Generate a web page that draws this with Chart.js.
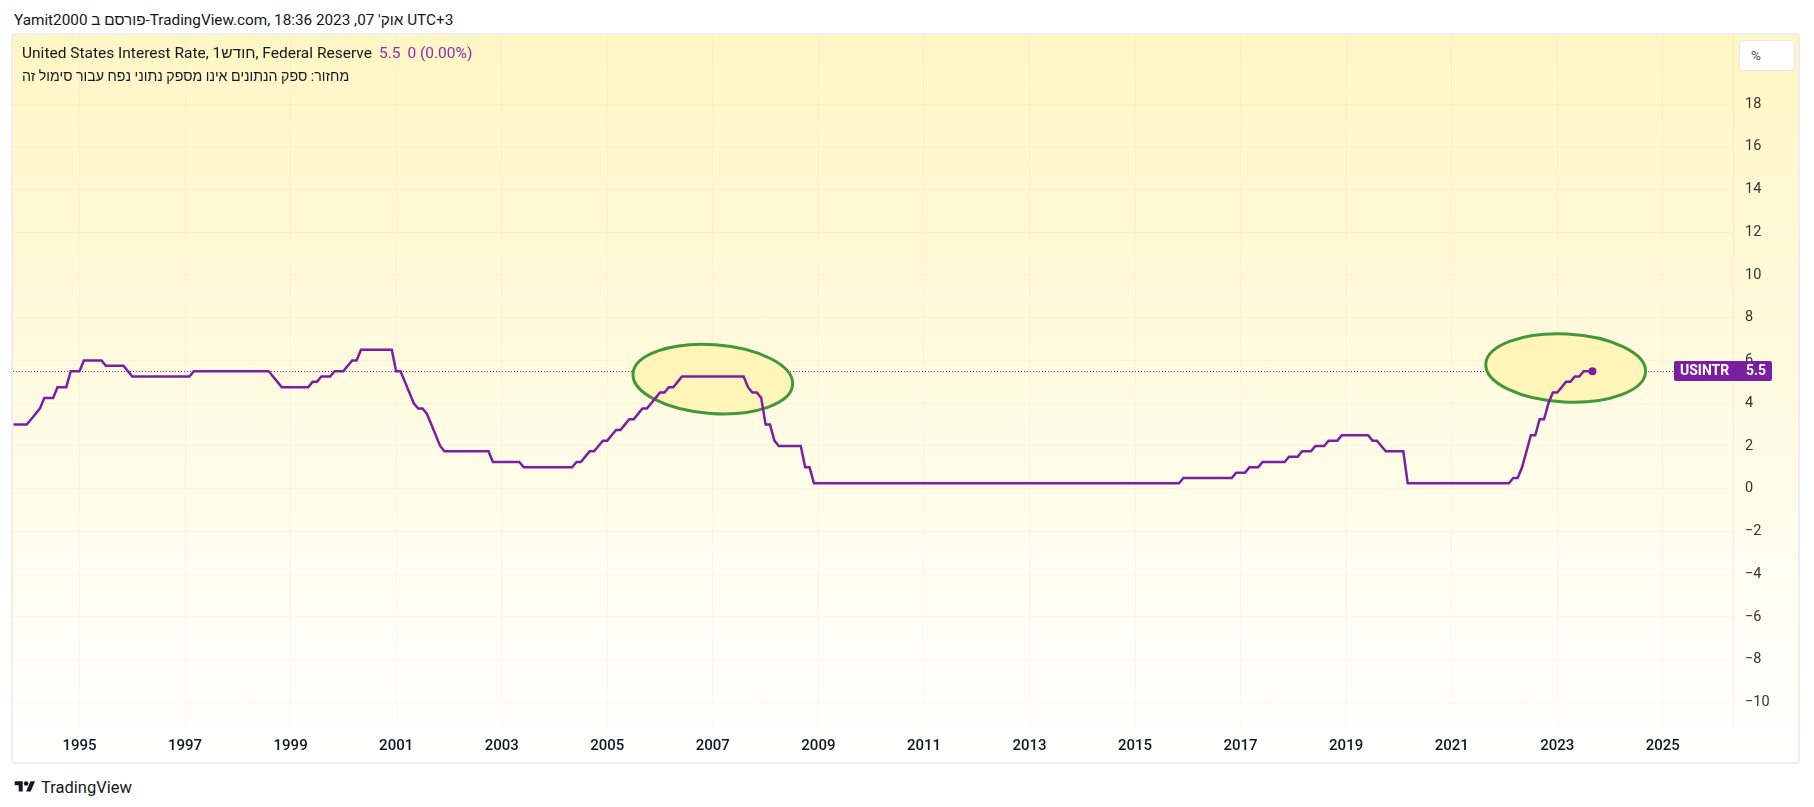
<!DOCTYPE html>
<html>
<head>
<meta charset="utf-8">
<title>USINTR</title>
<script src="https://cdn.jsdelivr.net/npm/chart.js@4.4.0/dist/chart.umd.min.js"></script>
<style>
  html, body { margin: 0; padding: 0; background: #ffffff; width: 1814px; height: 807px; overflow: hidden; }
  body { font-family: Roboto, "Liberation Sans", "DejaVu Sans", sans-serif; color: #131722; }
  #header { position: absolute; left: 14px; top: 10px; font-size: 15.3px; line-height: 20px; white-space: nowrap; }
  #panel {
    position: absolute; left: 11px; top: 33px; width: 1785px; height: 727px;
    border: 2px solid #eceef2; border-radius: 4px; overflow: hidden;
    background: linear-gradient(to bottom, #fff6c4 0%, #ffffff 100%);
  }
  #chart { position: absolute; left: 0; top: 0; }
  .legend { position: absolute; left: 9px; font-size: 15.5px; line-height: 20px; white-space: nowrap; }
  #legend1 { top: 8px; }
  #legend2 { top: 31px; font-size: 14.2px; }
  .val { color: #8e2bb0; margin-left: 7px; }
  #unit {
    position: absolute; left: 1726px; top: 5px; width: 56px; height: 31px;
    background: #ffffff; border: 1px solid #e6e8ee; border-radius: 5px; box-sizing: border-box;
    font-size: 13.5px; line-height: 29px; padding-left: 11px; color: #555;
  }
  #footer { position: absolute; left: 13px; top: 778px; height: 18px; display: flex; align-items: center; font-size: 16.5px; }
  #footer svg { margin-right: 4px; }
</style>
</head>
<body>
<div id="header" dir="ltr">Yamit2000 פורסם ב-TradingView.com, אוק' 07, 2023 18:36 UTC+3</div>

<div id="panel">
  <canvas id="chart" width="1785" height="727"></canvas>
  <div id="legend1" class="legend" dir="ltr">United States Interest Rate, 1חודש, Federal Reserve<span class="val">5.5</span><span class="val">0 (0.00%)</span></div>
  <div id="legend2" class="legend" dir="ltr">מחזור: ספק הנתונים אינו מספק נתוני נפח עבור סימול זה</div>
  <div id="unit">%</div>
</div>

<div id="footer">
  <svg width="24" height="16" viewBox="0 0 36 28"><path d="M14 22H7V11H0V4h14v18zM28 22h-8l7.5-18h8L28 22z" fill="#131722"/><circle cx="20" cy="8" r="4" fill="#131722"/></svg>
  <span>TradingView</span>
</div>

<script>
// ------------------------------------------------------------
// USINTR - United States Interest Rate, monthly closes
// ------------------------------------------------------------
Chart.defaults.font.family = "Roboto, 'Liberation Sans', 'DejaVu Sans', sans-serif";

const symbol = 'USINTR';
const firstYear = 1993;
const firstMonth = 9; // October (0-based)

// monthly close values, one row per year
const monthlyRates = [
  3, 3, 3,                                                   // 1993 Oct-Dec
  3, 3.25, 3.5, 3.75, 4.25, 4.25, 4.25, 4.75, 4.75, 4.75, 5.5, 5.5, // 1994
  5.5, 6, 6, 6, 6, 6, 5.75, 5.75, 5.75, 5.75, 5.75, 5.5,      // 1995
  5.25, 5.25, 5.25, 5.25, 5.25, 5.25, 5.25, 5.25, 5.25, 5.25, 5.25, 5.25, // 1996
  5.25, 5.25, 5.5, 5.5, 5.5, 5.5, 5.5, 5.5, 5.5, 5.5, 5.5, 5.5, // 1997
  5.5, 5.5, 5.5, 5.5, 5.5, 5.5, 5.5, 5.5, 5.25, 5, 4.75, 4.75, // 1998
  4.75, 4.75, 4.75, 4.75, 4.75, 5, 5, 5.25, 5.25, 5.25, 5.5, 5.5, // 1999
  5.5, 5.75, 6, 6, 6.5, 6.5, 6.5, 6.5, 6.5, 6.5, 6.5, 6.5,      // 2000
  5.5, 5.5, 5, 4.5, 4, 3.75, 3.75, 3.5, 3, 2.5, 2, 1.75,        // 2001
  1.75, 1.75, 1.75, 1.75, 1.75, 1.75, 1.75, 1.75, 1.75, 1.75, 1.25, 1.25, // 2002
  1.25, 1.25, 1.25, 1.25, 1.25, 1, 1, 1, 1, 1, 1, 1,           // 2003
  1, 1, 1, 1, 1, 1.25, 1.25, 1.5, 1.75, 1.75, 2, 2.25,         // 2004
  2.25, 2.5, 2.75, 2.75, 3, 3.25, 3.25, 3.5, 3.75, 3.75, 4, 4.25, // 2005
  4.5, 4.5, 4.75, 4.75, 5, 5.25, 5.25, 5.25, 5.25, 5.25, 5.25, 5.25, // 2006
  5.25, 5.25, 5.25, 5.25, 5.25, 5.25, 5.25, 5.25, 4.75, 4.5, 4.5, 4.25, // 2007
  3, 3, 2.25, 2, 2, 2, 2, 2, 2, 1, 1, 0.25,                    // 2008
  0.25, 0.25, 0.25, 0.25, 0.25, 0.25, 0.25, 0.25, 0.25, 0.25, 0.25, 0.25, // 2009
  0.25, 0.25, 0.25, 0.25, 0.25, 0.25, 0.25, 0.25, 0.25, 0.25, 0.25, 0.25, // 2010
  0.25, 0.25, 0.25, 0.25, 0.25, 0.25, 0.25, 0.25, 0.25, 0.25, 0.25, 0.25, // 2011
  0.25, 0.25, 0.25, 0.25, 0.25, 0.25, 0.25, 0.25, 0.25, 0.25, 0.25, 0.25, // 2012
  0.25, 0.25, 0.25, 0.25, 0.25, 0.25, 0.25, 0.25, 0.25, 0.25, 0.25, 0.25, // 2013
  0.25, 0.25, 0.25, 0.25, 0.25, 0.25, 0.25, 0.25, 0.25, 0.25, 0.25, 0.25, // 2014
  0.25, 0.25, 0.25, 0.25, 0.25, 0.25, 0.25, 0.25, 0.25, 0.25, 0.25, 0.5,  // 2015
  0.5, 0.5, 0.5, 0.5, 0.5, 0.5, 0.5, 0.5, 0.5, 0.5, 0.5, 0.75,          // 2016
  0.75, 0.75, 1, 1, 1, 1.25, 1.25, 1.25, 1.25, 1.25, 1.25, 1.5,         // 2017
  1.5, 1.5, 1.75, 1.75, 1.75, 2, 2, 2, 2.25, 2.25, 2.25, 2.5,           // 2018
  2.5, 2.5, 2.5, 2.5, 2.5, 2.5, 2.25, 2.25, 2, 1.75, 1.75, 1.75,        // 2019
  1.75, 1.75, 0.25, 0.25, 0.25, 0.25, 0.25, 0.25, 0.25, 0.25, 0.25, 0.25, // 2020
  0.25, 0.25, 0.25, 0.25, 0.25, 0.25, 0.25, 0.25, 0.25, 0.25, 0.25, 0.25, // 2021
  0.25, 0.25, 0.5, 0.5, 1, 1.75, 2.5, 2.5, 3.25, 3.25, 4, 4.5,          // 2022
  4.5, 4.75, 5, 5, 5.25, 5.25, 5.5, 5.5, 5.5                             // 2023 Jan-Sep
];

// axis ticks
const yearTicks = [1995, 1997, 1999, 2001, 2003, 2005, 2007, 2009, 2011, 2013, 2015, 2017, 2019, 2021, 2023, 2025];
const priceTicks = [-10, -8, -6, -4, -2, 0, 2, 4, 6, 8, 10, 12, 14, 16, 18];

// visible range
const xRange = [1993.74, 2026.33];
const yRange = [-11.15, 21.23];

// highlight annotations: [year, value, half-width in years, half-height in %, tilt]
const highlightEllipses = [
  [2007.0, 5.13, 1.516, 1.61, 0.07],
  [2023.16, 5.65, 1.516, 1.59, 0.05]
];

const PURPLE = '#7b1fa2';
const GRID = 'rgba(42, 46, 57, 0.028)';

const points = monthlyRates.map((v, i) => ({ x: firstYear + (firstMonth + i) / 12, y: v }));
const lastValue = monthlyRates[monthlyRates.length - 1];

// dotted last-value line + green highlight ellipses, under the series
const annotationsPlugin = {
  id: 'annotations',
  beforeDatasetsDraw(chart) {
    const { ctx, chartArea, scales } = chart;
    const y = Math.round(scales.y.getPixelForValue(lastValue)) + 0.5;
    ctx.save();
    ctx.beginPath();
    ctx.rect(chartArea.left, chartArea.top, chartArea.width, chartArea.height);
    ctx.clip();

    ctx.strokeStyle = PURPLE;
    ctx.lineWidth = 1;
    ctx.setLineDash([1, 2]);
    ctx.beginPath();
    ctx.moveTo(chartArea.left, y);
    ctx.lineTo(chartArea.right, y);
    ctx.stroke();
    ctx.setLineDash([]);

    highlightEllipses.forEach(([yr, val, rx, ry, tilt]) => {
      const cx = scales.x.getPixelForValue(yr);
      const cy = scales.y.getPixelForValue(val);
      const pxR = scales.x.getPixelForValue(yr + rx) - cx;
      const pyR = cy - scales.y.getPixelForValue(val + ry);
      ctx.beginPath();
      ctx.ellipse(cx, cy, pxR, pyR, tilt, 0, Math.PI * 2);
      ctx.fillStyle = '#fff5b8';
      ctx.fill();
      ctx.lineWidth = 3;
      ctx.strokeStyle = '#43963a';
      ctx.stroke();
    });
    ctx.restore();
  },
  afterDraw(chart) {
    // price label on the axis
    const { ctx, chartArea, scales } = chart;
    const y = scales.y.getPixelForValue(lastValue);
    const left = chartArea.right - 59;
    const w = 98, h = 20;
    ctx.save();
    ctx.fillStyle = PURPLE;
    ctx.beginPath();
    ctx.roundRect(left, Math.round(y - h / 2), w, h, 2);
    ctx.fill();
    ctx.fillStyle = '#ffffff';
    ctx.font = "bold 14px Roboto, 'Liberation Sans', sans-serif";
    ctx.textBaseline = 'middle';
    ctx.textAlign = 'left';
    ctx.fillText(symbol, left + 6, y + 0.5);
    ctx.textAlign = 'right';
    ctx.fillText(String(lastValue), left + w - 6, y + 0.5);
    ctx.restore();
  }
};

new Chart(document.getElementById('chart').getContext('2d'), {
  type: 'line',
  data: {
    datasets: [{
      label: symbol,
      data: points,
      borderColor: PURPLE,
      backgroundColor: PURPLE,
      borderWidth: 2.5,
      tension: 0,
      fill: false,
      pointRadius: ctx => (ctx.dataIndex === points.length - 1 ? 4 : 0),
      pointHoverRadius: 0,
      pointBorderWidth: 0
    }]
  },
  options: {
    responsive: false,
    animation: false,
    events: [],
    layout: { padding: 0, autoPadding: false },
    plugins: {
      legend: { display: false },
      tooltip: { enabled: false }
    },
    scales: {
      x: {
        type: 'linear',
        min: xRange[0],
        max: xRange[1],
        afterBuildTicks: s => { s.ticks = yearTicks.map(v => ({ value: v })); },
        afterFit: s => { s.height = 35; s.paddingLeft = 0; s.paddingRight = 0; },
        grid: { color: GRID, drawTicks: false },
        border: { display: false },
        ticks: {
          color: '#131722',
          font: { size: 15, weight: '500' },
          padding: 10,
          maxRotation: 0,
          minRotation: 0,
          autoSkip: false,
          callback: v => String(v)
        }
      },
      y: {
        position: 'right',
        min: yRange[0],
        max: yRange[1],
        afterBuildTicks: s => { s.ticks = priceTicks.map(v => ({ value: v })); },
        afterFit: s => { s.width = 65; s.paddingTop = 0; s.paddingBottom = 0; },
        grid: { color: GRID, drawTicks: false },
        border: { display: true, color: 'rgba(42, 46, 57, 0.05)' },
        ticks: {
          color: '#333333',
          font: { size: 14.5 },
          padding: 12,
          callback: v => String(v).replace('-', '\u2212')
        }
      }
    }
  },
  plugins: [annotationsPlugin]
});
</script>
</body>
</html>
